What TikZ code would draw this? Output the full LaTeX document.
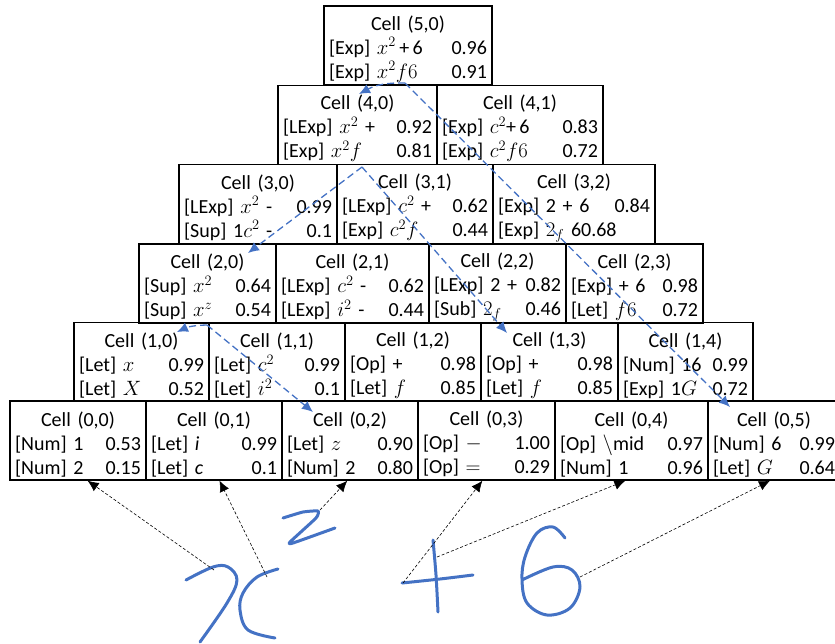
\documentclass[tikz,border=0pt]{standalone}
\usepackage{fontspec}
\setmainfont{Carlito}
\usepackage{tikz}
\usetikzlibrary{arrows.meta,calc}
\definecolor{inkblue}{RGB}{68,114,196}
\tikzset{
    cell/.style = {draw, rectangle, line width=1.4pt,
        minimum height=79pt, inner xsep=5pt, inner ysep=0pt,
        align=center, font=\fontsize{20}{24}\selectfont,
        execute at begin node=\rule{0pt}{22pt}},
    parse/.style = {draw=inkblue, line width=1.3pt, dash pattern=on 7pt off 4pt,
        -{Latex[length=11pt,width=10pt]}},
    guide/.style = {draw, line width=0.6pt, dash pattern=on 3pt off 2pt,
        -{Latex[length=11pt,width=10pt]}},
    ink/.style = {draw=inkblue, line width=3pt, line cap=round, line join=round}
}
\newcommand{\sline}[2]{#1\hfill #2}

\begin{document}
\begin{tikzpicture}[x=1pt,y=-1pt]
    \useasboundingbox (0,0) rectangle (835,643);
    % top row
    \node[cell,text width=158pt] (c50) at (408,45.5) {Cell (5,0)\\\sline{[Exp] $x^2$\,+\,6}{0.96}\\\sline{[Exp] $x^2f6$}{0.91}};
    % row 4
    \node[cell,text width=149pt] (c40) at (357.5,125) {Cell (4,0)\\\sline{[LExp] $x^2$ +}{0.92}\\\sline{[Exp] $x^2f$}{0.81}};
    \node[cell,text width=156pt] (c41) at (520,125) {Cell (4,1)\\\sline{[Exp] $c^2$+\,6}{0.83}\\\sline{[Exp] $c^2f6$}{0.72}};
    % row 3
    \node[cell,text width=148pt] (c30) at (258,204) {Cell (3,0)\\\sline{[LExp] $x^2$ -}{0.99}\\\sline{[Sup] 1$c^2$ -}{0.1}};
    \node[cell,text width=146pt] (c31) at (415,204) {Cell (3,1)\\\sline{[LExp] $c^2$ +}{0.62}\\\sline{[Exp] $c^2f$}{0.44}};
    \node[cell,text width=152pt] (c32) at (574,204) {Cell (3,2)\\\sline{[Exp] 2 + 6}{0.84}\\\sline{[Exp] $2_f$ 60.68}{\mbox{}}};
    % row 2
    \node[cell,text width=127pt] (c20) at (207.5,283.5) {Cell (2,0)\\\sline{[Sup] $x^2$}{0.64}\\\sline{[Sup] $x^z$}{0.54}};
    \node[cell,text width=143pt] (c21) at (352.5,283.5) {Cell (2,1)\\\sline{[LExp] $c^2$ -}{0.62}\\\sline{[LExp] $i^2$ -}{0.44}};
    \node[cell,text width=127pt] (c22) at (497.5,283.5) {Cell (2,2)\\\sline{[LExp] 2 +}{0.82}\\\sline{[Sub] $2_f$}{0.46}};
    \node[cell,text width=127pt] (c23) at (634.5,283.5) {Cell (2,3)\\\sline{[Exp] + 6}{0.98}\\\sline{[Let] $f6$}{0.72}};
    % row 1
    \node[cell,text width=125pt] (c10) at (141.5,362) {Cell (1,0)\\\sline{[Let] $x$}{0.99}\\\sline{[Let] $X$}{0.52}};
    \node[cell,text width=126pt] (c11) at (277,362) {Cell (1,1)\\\sline{[Let] $c^2$}{0.99}\\\sline{[Let] $i^2$}{0.1}};
    \node[cell,text width=126pt] (c12) at (413,362) {Cell (1,2)\\\sline{[Op] +}{0.98}\\\sline{[Let] $f$}{0.85}};
    \node[cell,text width=127pt] (c13) at (549.5,362) {Cell (1,3)\\\sline{[Op] +}{0.98}\\\sline{[Let] $f$}{0.85}};
    \node[cell,text width=125pt] (c14) at (685.5,362) {Cell (1,4)\\\sline{[Num] 16}{0.99}\\\sline{[Exp] 1$G$}{0.72}};
    % bottom row
    \node[cell,text width=126pt] (c00) at (78,440.5) {Cell (0,0)\\\sline{[Num] 1}{0.53}\\\sline{[Num] 2}{0.15}};
    \node[cell,text width=126pt] (c01) at (214,440.5) {Cell (0,1)\\\sline{[Let] \textit{i}}{0.99}\\\sline{[Let] \textit{c}}{0.1}};
    \node[cell,text width=126pt] (c02) at (350,440.5) {Cell (0,2)\\\sline{[Let] $z$}{0.90}\\\sline{[Num] 2}{0.80}};
    \node[cell,text width=127pt] (c03) at (486.5,440.5) {Cell (0,3)\\\sline{[Op] $-$}{1.00}\\\sline{[Op] $=$}{0.29}};
    \node[cell,text width=143pt] (c04) at (631.5,440.5) {Cell (0,4)\\\sline{[Op] $\backslash\mathrm{mid}$}{0.97}\\\sline{[Num] 1}{0.96}};
    \node[cell,text width=122pt] (c05) at (774,440.5) {Cell (0,5)\\\sline{[Num] 6}{0.99}\\\sline{[Let] $G$}{0.64}};

    % parse arrows
    \coordinate (t5) at (405,83);
    \coordinate (e40) at (359,94);
    \coordinate (e05) at (730,407);
    \coordinate (t4) at (362,167);
    \coordinate (e20) at (248,253);
    \coordinate (e13) at (507,333);
    \coordinate (t1) at (207,325);
    \coordinate (e10) at (177,332);
    \coordinate (e02) at (313,412);
    \draw[parse] (t5) to[bend right=15] (e40);
    \draw[parse] (t5) -- (e05);
    \draw[parse] (t4) -- (e20);
    \draw[parse] (t4) -- (e13);
    \draw[parse] (t1) to[bend right=12] (e10);
    \draw[parse] (t1) -- (e02);

    % handwriting
    \draw[ink] plot[smooth,tension=0.6] coordinates {(186,580) (213,567) (228,567) (237,580) (227,603) (200,642)};
    \draw[ink] plot[smooth,tension=0.6] coordinates {(278,569) (257,577) (243,593) (240,610) (248,630) (275,638)};
    \draw[ink] plot[smooth,tension=0.3] coordinates {(283,518) (303,512) (318,511) (316,518) (290,542) (293,543) (335,528)};
    \draw[ink] plot[smooth,tension=0.5] coordinates {(402,583) (440,579) (473,575)};
    \draw[ink] plot[smooth,tension=0.5] coordinates {(433,540) (436,575) (438,612)};
    \draw[ink] plot[smooth,tension=0.6] coordinates {(565,538) (553,527) (537,533) (525,557) (522,580) (527,603) (547,615) (570,608) (580,587) (572,570) (553,567) (522,580)};

    % pen points to cells
    \coordinate (p00) at (214,570);
    \coordinate (p01) at (267,577);
    \coordinate (p02) at (320,510);
    \coordinate (p03) at (403,583);
    \coordinate (p04) at (437,557);
    \coordinate (p05) at (580,577);
    \draw[guide] (p00) -- ($(c00.south west)!0.57!(c00.south east)$);
    \draw[guide] (p01) -- ($(c01.south west)!0.54!(c01.south east)$);
    \draw[guide] (p02) -- ($(c02.south west)!0.48!(c02.south east)$);
    \draw[guide] (p03) -- ($(c03.south west)!0.47!(c03.south east)$);
    \draw[guide] (p04) -- ($(c04.south west)!0.46!(c04.south east)$);
    \draw[guide] (p05) -- ($(c05.south west)!0.47!(c05.south east)$);
\end{tikzpicture}
\end{document}
